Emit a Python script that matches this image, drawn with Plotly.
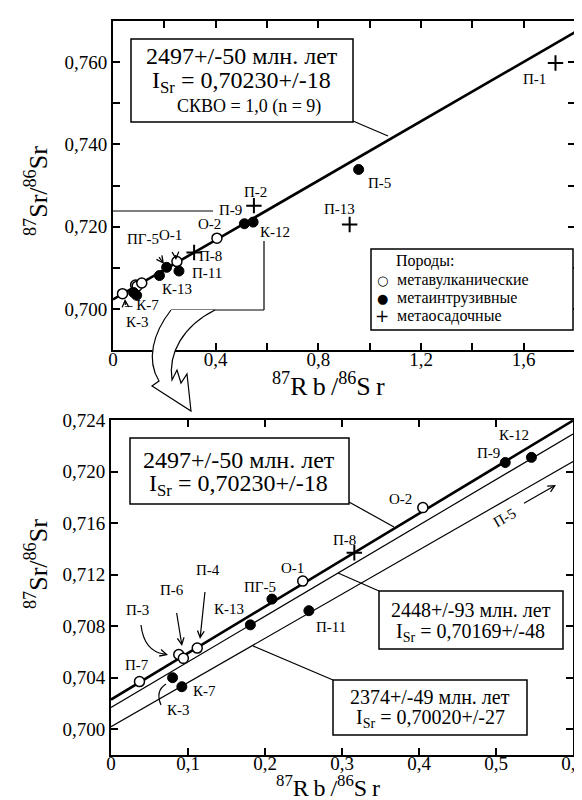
import math
import plotly.graph_objects as go

# ---------------- data ----------------
sample_names = ["П-7", "П-3", "П-6", "П-4", "К-3", "К-7", "К-13", "ПГ-5", "О-1",
                "П-11", "П-8", "О-2", "П-9", "К-12", "П-13", "П-2", "П-5", "П-1"]
rb_sr = [0.037, 0.088, 0.094, 0.112, 0.080, 0.092, 0.181, 0.209, 0.249,
         0.257, 0.316, 0.405, 0.512, 0.546, 0.922, 0.549, 0.957, 1.724]
sr_sr = [0.7037, 0.7058, 0.7055, 0.7063, 0.7040, 0.7033, 0.7081, 0.7101, 0.7115,
         0.7092, 0.7137, 0.7172, 0.7207, 0.7211, 0.7205, 0.7251, 0.7339, 0.7598]
rock_type = ["v", "v", "v", "v", "i", "i", "i", "i", "v",
             "i", "s", "v", "i", "i", "s", "s", "i", "s"]

rock_names = {"v": "метавулканические", "i": "метаинтрузивные", "s": "метаосадочные"}
legend_title = "Породы:"

iso_age = [2497, 2448, 2374]          # млн. лет
iso_i0 = [0.70230, 0.70169, 0.70020]  # initial 87Sr/86Sr
LAMBDA = 1.42e-11

box_main = ["2497+/-50 млн. лет", "I<sub>Sr</sub> = 0,70230+/-18", "СКВО = 1,0 (n = 9)"]
box_2448 = ["2448+/-93 млн. лет", "I<sub>Sr</sub> = 0,70169+/-48"]
box_2374 = ["2374+/-49 млн. лет", "I<sub>Sr</sub> = 0,70020+/-27"]

top_x_ticks = [0, 0.2, 0.4, 0.6, 0.8, 1.0, 1.2, 1.4, 1.6, 1.8]
top_x_labels = ["0", " ", "0,4", " ", "0,8", " ", "1,2", " ", "1,6", " "]
top_y_ticks = [0.69, 0.70, 0.71, 0.72, 0.73, 0.74, 0.75, 0.76, 0.77]
top_y_labels = [" ", "0,700", " ", "0,720", " ", "0,740", " ", "0,760", " "]
bot_x_ticks = [0, 0.1, 0.2, 0.3, 0.4, 0.5, 0.6]
bot_x_labels = ["0", "0,1", "0,2", "0,3", "0,4", "0,5", "0,6"]
bot_y_ticks = [0.700, 0.704, 0.708, 0.712, 0.716, 0.720, 0.724]
bot_y_labels = ["0,700", "0,704", "0,708", "0,712", "0,716", "0,720", "0,724"]

# ---------------- layout helpers ----------------
W, H = 582, 800
FONT = "Liberation Serif, Times New Roman, serif"


def P(x, y):
    return x / W, 1 - y / H


def path(points_cmds):
    out = []
    for item in points_cmds:
        if isinstance(item, str):
            out.append(item)
        else:
            px_, py_ = P(*item)
            out.append(f"{px_:.5f},{py_:.5f}")
    return " ".join(out)


fig = go.Figure()


def slope(age):
    return math.exp(LAMBDA * age * 1e6) - 1


for sub, xmax, idxs, widths in [("1", 1.8, [0], [2.6]), ("2", 0.6, [0, 1, 2], [2.6, 1.2, 1.2])]:
    for k, w in zip(idxs, widths):
        s = slope(iso_age[k])
        fig.add_trace(go.Scatter(
            x=[0, xmax], y=[iso_i0[k], iso_i0[k] + s * xmax], mode="lines",
            line=dict(color="black", width=w), showlegend=False, hoverinfo="skip",
            xaxis="x" if sub == "1" else "x2", yaxis="y" if sub == "1" else "y2"))

marker_style = {
    "v": dict(symbol="circle", color="white", line=dict(color="black", width=1.5)),
    "i": dict(symbol="circle", color="black", line=dict(color="black", width=1)),
    "s": dict(symbol="cross-thin", color="black", line=dict(color="black", width=2)),
}
for sub in ["1", "2"]:
    for t in ["v", "i", "s"]:
        xs = [x for x, r in zip(rb_sr, rock_type) if r == t]
        ys = [y for y, r in zip(sr_sr, rock_type) if r == t]
        m = dict(marker_style[t])
        m["size"] = 10 if t != "s" else 11
        fig.add_trace(go.Scatter(
            x=xs, y=ys, mode="markers", marker=m, name=rock_names[t], showlegend=False,
            xaxis="x" if sub == "1" else "x2", yaxis="y" if sub == "1" else "y2"))

annotations = []
shapes = []

# point labels: offsets (dx right, dy down) in px
top_labels = {"П-1": (-21, 16), "П-5": (21, 14), "П-13": (-10, -16), "П-2": (2, -14),
              "П-9": (-14, -14), "О-2": (-7, -14), "К-12": (22, 10), "О-1": (-6, -27),
              "ПГ-5": (-24, -28), "П-8": (16, 3), "П-11": (28, 2), "К-13": (18, 13),
              "К-7": (5, 10), "К-3": (4, 30)}
bot_labels = {"П-7": (-2, -17), "П-3": (-41, -45), "П-6": (-11, -68), "П-4": (11, -78),
              "К-3": (6, 32), "К-7": (23, 4), "К-13": (-21, -16), "ПГ-5": (-12, -12),
              "О-1": (-10, -13), "П-11": (22, 16), "П-8": (-10, -13), "О-2": (-22, -9),
              "П-9": (-17, -10), "К-12": (-17, -22)}

for labels, xr, yr in [(top_labels, "x", "y"), (bot_labels, "x2", "y2")]:
    for name, (dx, dy) in labels.items():
        i = sample_names.index(name)
        txt = name
        if name == "К-7" and xr == "x":
            txt = "– К-7"
        annotations.append(dict(x=rb_sr[i], y=sr_sr[i], xref=xr, yref=yr, text=txt,
                                showarrow=False, xshift=dx, yshift=-dy,
                                xanchor="center", yanchor="middle",
                                font=dict(family=FONT, size=15, color="black")))


def arrow(tip, ax, ay):
    x, y = P(*tip)
    annotations.append(dict(x=x, y=y, xref="paper", yref="paper", text=" ", showarrow=True,
                            ax=ax, ay=ay, arrowhead=5, arrowsize=1.1, arrowwidth=1.2,
                            arrowcolor="black", standoff=0, startstandoff=0))


arrow((174, 638), -7, -43)     # П-6
arrow((192, 631), 6, -57)      # П-4
arrow((168, 252), -1, -15)     # О-1 top
arrow((156, 256), -8, -11)     # ПГ-5 top
arrow((117, 291), 1, 16)       # К-3 top
arrow((160, 647), -7, -2)      # П-3 bottom end
arrow((161, 674), -4, 4)       # К-3 bottom end
arrow((548, 477), -35, 20)     # П-5 bottom

shapes.append(dict(type="path", xref="paper", yref="paper",
                   path=path(["M", (133, 617), "Q", (136, 643), (156, 646)]),
                   line=dict(color="black", width=1.2)))
shapes.append(dict(type="path", xref="paper", yref="paper",
                   path=path(["M", (153, 697), "Q", (147, 683), (158, 676)]),
                   line=dict(color="black", width=1.2)))

x5, y5 = P(496, 510)
annotations.append(dict(x=x5, y=y5, xref="paper", yref="paper", text="П-5", textangle=-30,
                        showarrow=False, xanchor="center", yanchor="middle",
                        font=dict(family=FONT, size=15, color="black")))


def box(x0, y0, x1, y1, lw=1.5):
    a, b = P(x0, y0)
    c, d = P(x1, y1)
    shapes.append(dict(type="rect", xref="paper", yref="paper", x0=a, y0=d, x1=c, y1=b,
                       line=dict(color="black", width=lw), fillcolor="white", layer="above"))


def line(x0, y0, x1, y1, lw=1.2):
    a, b = P(x0, y0)
    c, d = P(x1, y1)
    shapes.append(dict(type="line", xref="paper", yref="paper", x0=a, y0=b, x1=c, y1=d,
                       line=dict(color="black", width=lw), layer="above"))


def text(x, y, s, size, anchor="center", angle=0):
    a, b = P(x, y)
    annotations.append(dict(x=a, y=b, xref="paper", yref="paper", text=s, showarrow=False,
                            xanchor=anchor, yanchor="middle", textangle=angle,
                            font=dict(family=FONT, size=size, color="black")))


box(123, 31, 345, 114)
line(345, 113, 380, 128)
text(234, 48, box_main[0], 24)
text(233, 74, box_main[1], 24)
text(241, 98, box_main[2], 18)

box(122, 430, 341, 496)
line(341, 494, 386, 519)
text(231, 452, box_main[0], 24)
text(230, 477, box_main[1], 24)

box(371, 583, 555, 641)
line(371, 583, 330, 565)
text(463, 602, box_2448[0], 20)
text(463, 624, box_2448[1], 20)

box(325, 672, 519, 727)
line(325, 672, 245, 638)
text(422, 689, box_2374[0], 20)
text(422, 710, box_2374[1], 20)

box(363, 241, 565, 322)
text(386, 253, legend_title, 16, "left")
text(387, 272, rock_names["v"], 16, "left")
text(387, 290, rock_names["i"], 16, "left")
text(387, 308, rock_names["s"], 16, "left")
for yy, g, sz in [(272, "○", 13), (290, "●", 13), (308, "+", 17)]:
    a, b = P(374, yy)
    annotations.append(dict(x=a, y=b, xref="paper", yref="paper", text=g, showarrow=False,
                            xanchor="center", yanchor="middle",
                            font=dict(family="DejaVu Sans", size=sz, color="black")))

# zoom rectangle in top plot
line(105, 203, 205, 203)
line(256, 233, 256, 302)
line(163, 302, 256, 302)

# hollow curved arrow
shapes.append(dict(type="path", xref="paper", yref="paper", layer="above",
                   path=path(["M", (163, 302), "C", (145, 325), (138, 352), (151, 373),
                              "L", (144, 378), "L", (183, 403), "L", (179, 366),
                              "L", (173, 375), "L", (169, 362), "L", (164, 372),
                              "C", (160, 345), (175, 318), (207, 302)]),
                   line=dict(color="black", width=1.2), fillcolor="white"))

# axis titles
text(320, 377, "<sup>87</sup>R\u2009b\u2009/<sup>86</sup>S\u2009r", 26)
text(320, 778, "<sup>87</sup>R\u2009b\u2009/<sup>86</sup>S\u2009r", 24)
text(28, 183, "<sup>87</sup>Sr/<sup>86</sup>Sr", 26, angle=-90)
text(28, 556, "<sup>87</sup>Sr/<sup>86</sup>Sr", 26, angle=-90)

axis_common = dict(showline=True, linewidth=2, linecolor="black", mirror="ticks",
                   ticks="inside", ticklen=7, tickwidth=1.5, tickcolor="black",
                   showgrid=False, zeroline=False, automargin=False,
                   tickfont=dict(family=FONT, size=19, color="black"))

fig.update_layout(
    width=W, height=H, autosize=False, margin=dict(l=0, r=0, t=0, b=0, pad=0),
    paper_bgcolor="white", plot_bgcolor="white", showlegend=False,
    xaxis=dict(domain=[105 / W, 567 / W], range=[0, 1.8], tickvals=top_x_ticks,
               ticktext=top_x_labels, anchor="y", ticklabelstandoff=-9, **axis_common),
    yaxis=dict(domain=[1 - 342 / H, 1 - 13 / H], range=[0.690, 0.770], tickvals=top_y_ticks,
               ticktext=top_y_labels, anchor="x", **axis_common),
    xaxis2=dict(domain=[103 / W, 565 / W], range=[0, 0.6], tickvals=bot_x_ticks,
                ticktext=bot_x_labels, anchor="y2", ticklabelstandoff=-10, **axis_common),
    yaxis2=dict(domain=[1 - 747 / H, 1 - 412 / H], range=[0.698, 0.724], tickvals=bot_y_ticks,
                ticktext=bot_y_labels, anchor="x2", **axis_common),
    annotations=annotations, shapes=shapes,
)

fig.write_html("out.html")
